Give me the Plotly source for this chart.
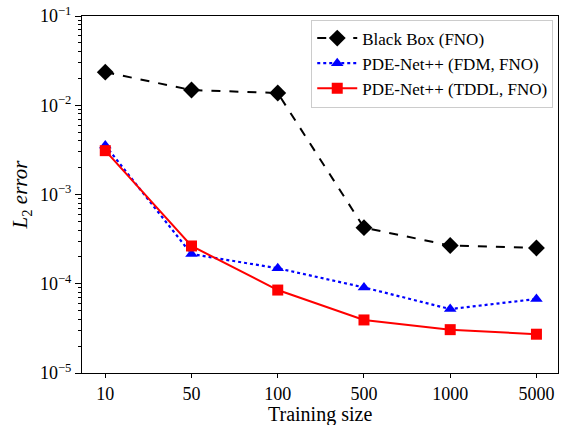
import plotly.graph_objects as go

# Training sizes (categorical, evenly spaced on the axis)
sizes = ["10", "50", "100", "500", "1000", "5000"]

# L2 error for each model
black_box_fno = [2.35e-2, 1.48e-2, 1.37e-2, 4.25e-4, 2.68e-4, 2.52e-4]
pdenet_fdm_fno = [3.55e-3, 2.15e-4, 1.49e-4, 9.1e-5, 5.2e-5, 6.75e-5]
pdenet_tddl_fno = [3.1e-3, 2.65e-4, 8.5e-5, 3.93e-5, 3.06e-5, 2.72e-5]

# Decade ticks and labels
major_vals = [1e-5, 1e-4, 1e-3, 1e-2, 1e-1]
major_text = ["10<sup>\u22125</sup>", "10<sup>\u22124</sup>", "10<sup>\u22123</sup>",
              "10<sup>\u22122</sup>", "10<sup>\u22121</sup>"]
minor_vals = [m * d for d in [1e-5, 1e-4, 1e-3, 1e-2] for m in range(2, 10)]

xi = list(range(len(sizes)))

fig = go.Figure()
fig.add_trace(go.Scatter(
    x=xi, y=black_box_fno, name="Black Box (FNO)", mode="lines+markers",
    line=dict(color="black", width=2, dash="dash"),
    marker=dict(symbol="diamond", size=13, color="black"),
))
fig.add_trace(go.Scatter(
    x=xi, y=pdenet_fdm_fno, name="PDE-Net++ (FDM, FNO)", mode="lines+markers",
    line=dict(color="blue", width=2.2, dash="dot"),
    marker=dict(symbol="triangle-up", size=11, color="blue"),
))
fig.add_trace(go.Scatter(
    x=xi, y=pdenet_tddl_fno, name="PDE-Net++ (TDDL, FNO)", mode="lines+markers",
    line=dict(color="red", width=2),
    marker=dict(symbol="square", size=11, color="red"),
))

font_family = "Liberation Serif"

fig.update_layout(
    width=561, height=425,
    margin=dict(l=82, r=3, t=16, b=52),
    paper_bgcolor="white", plot_bgcolor="white",
    font=dict(family=font_family, size=18, color="black"),
    showlegend=True,
    legend=dict(
        x=0.99, y=0.99, xanchor="right", yanchor="top",
        bgcolor="rgba(255,255,255,0.8)", bordercolor="#cccccc", borderwidth=1,
        font=dict(family=font_family, size=17, color="black"),
        itemwidth=40, tracegroupgap=0,
    ),
    xaxis=dict(
        range=[-0.27, 5.25], automargin=False,
        tickmode="array", tickvals=xi, ticktext=sizes,
        ticks="outside", ticklen=4, tickwidth=1, tickcolor="black",
        showline=True, linecolor="black", linewidth=1, mirror=True,
        showgrid=False, zeroline=False,
        tickfont=dict(size=18),
    ),
    yaxis=dict(
        type="log", range=[-5, -1], automargin=False,
        tickmode="array", tickvals=major_vals, ticktext=major_text,
        ticks="outside", ticklen=6, tickwidth=1, tickcolor="black",
        minor=dict(tickmode="array", tickvals=minor_vals, ticks="outside",
                   ticklen=3, tickwidth=1, tickcolor="black", showgrid=False),
        showline=True, linecolor="black", linewidth=1, mirror=True,
        showgrid=False, zeroline=False,
        title=dict(text="<i>L</i><sub>2</sub> <i>error</i>", font=dict(size=21), standoff=6),
        tickfont=dict(size=18),
    ),
    annotations=[dict(
        text="Training size", xref="paper", yref="paper", x=0.5, y=0,
        xanchor="center", yanchor="middle", yshift=-41, showarrow=False,
        font=dict(family=font_family, size=20, color="black"),
    )],
)

fig.write_html("out.html")
